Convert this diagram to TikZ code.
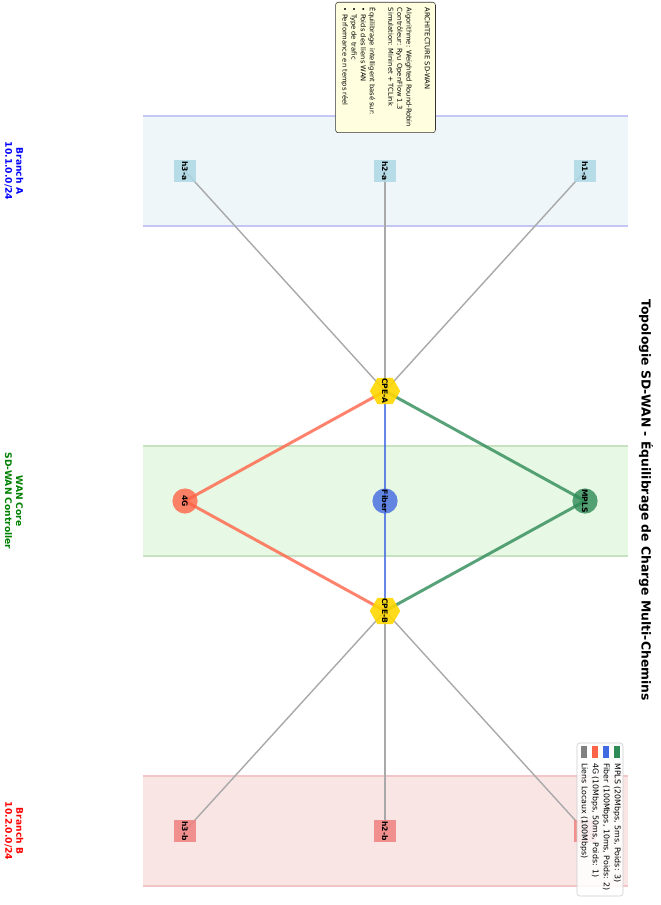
\documentclass[tikz,border=0pt]{standalone}
\usepackage{fontspec}
\setmainfont{DejaVu Sans}
\usepackage{tikz}
\usetikzlibrary{shapes.geometric}
\usetikzlibrary{backgrounds}
\definecolor{mplsgreen}{HTML}{2E8B57}
\definecolor{fiberblue}{HTML}{4169E1}
\definecolor{lteorange}{HTML}{FF6347}
\definecolor{localgray}{HTML}{A9A9A9}
\definecolor{hostblue}{HTML}{ADD8E6}
\definecolor{hostred}{HTML}{F08080}
\definecolor{cpegold}{HTML}{FFD700}
\definecolor{infoyellow}{HTML}{FFFFE0}
\definecolor{zoneafill}{HTML}{EEF6FA}
\definecolor{zoneaedge}{HTML}{C4C6F4}
\definecolor{zonewfill}{HTML}{E7F8E4}
\definecolor{zonewedge}{HTML}{C6E2C1}
\definecolor{zonebfill}{HTML}{FAE5E5}
\definecolor{zonebedge}{HTML}{F2C6C6}

\begin{document}
\begin{tikzpicture}[x=0.025cm, y=-0.025cm,
		host/.style = {rectangle, minimum size=0.56cm, inner sep=0pt, fill opacity=0.85, text opacity=1, rotate=-90, font=\fontsize{5.4}{6}\selectfont\bfseries},
		hosta/.style = {host, fill=hostblue},
		hostb/.style = {host, fill=hostred},
		cpe/.style = {regular polygon, regular polygon sides=6, shape border rotate=30, minimum size=0.76cm, inner sep=0pt, fill=cpegold, fill opacity=0.9, text opacity=1, rotate=-90, font=\fontsize{5.4}{6}\selectfont\bfseries},
		wan/.style = {circle, minimum size=0.63cm, inner sep=0pt, fill opacity=0.8, text opacity=1, rotate=-90, font=\fontsize{5.4}{6}\selectfont\bfseries},
		link/.style = {line width=2.1pt, draw opacity=0.8},
		local/.style = {localgray, line width=1pt},
		zone/.style = {rotate=-90, align=center, font=\fontsize{6.5}{7.8}\selectfont\bfseries},
		legtext/.style = {rotate=-90, anchor=west, inner sep=0pt, font=\fontsize{5.6}{6.4}\selectfont}
			]
		\useasboundingbox (0,0) rectangle (661,905);

		\node (Title) [rotate=-90, font=\fontsize{8.8}{10}\selectfont\bfseries] at (646,500) {Topologie SD-WAN - Équilibrage de Charge Multi-Chemins};

		\node (BranchA) [zone, text=blue] at (14,171) {Branch A\\10.1.0.0/24};
		\node (Core) [zone, text=green!50!black] at (14,501) {WAN Core\\SD-WAN Controller};
		\node (BranchB) [zone, text=red] at (14,831) {Branch B\\10.2.0.0/24};

		\node (h1a) [hosta] at (585,171) {h1-a};
		\node (h2a) [hosta] at (385,171) {h2-a};
		\node (h3a) [hosta] at (185,171) {h3-a};

		\node (CPEA) [cpe] at (385,391) {\makebox[0pt]{CPE-A}};
		\node (CPEB) [cpe] at (385,611) {\makebox[0pt]{CPE-B}};

		\node (MPLS) [wan, fill=mplsgreen] at (585,501) {MPLS};
		\node (Fiber) [wan, fill=fiberblue] at (385,501) {Fiber};
		\node (LTE) [wan, fill=lteorange] at (185,501) {4G};

		\node (h1b) [hostb] at (585,831) {h1-b};
		\node (h2b) [hostb] at (385,831) {h2-b};
		\node (h3b) [hostb] at (185,831) {h3-b};

		\begin{scope}[on background layer]
			\fill [zoneafill] (143,116) rectangle (628,226);
			\draw [zoneaedge, line width=1.3pt] (143,116) -- (628,116) (143,226) -- (628,226);
			\fill [zonewfill] (143,446) rectangle (628,556);
			\draw [zonewedge, line width=1.3pt] (143,446) -- (628,446) (143,556) -- (628,556);
			\fill [zonebfill] (143,776) rectangle (628,886);
			\draw [zonebedge, line width=1.3pt] (143,776) -- (628,776) (143,886) -- (628,886);

			\draw [local] (h1a.center) -- (CPEA.center);
			\draw [local] (h2a.center) -- (CPEA.center);
			\draw [local] (h3a.center) -- (CPEA.center);
			\draw [local] (CPEB.center) -- (h1b.center);
			\draw [local] (CPEB.center) -- (h2b.center);
			\draw [local] (CPEB.center) -- (h3b.center);

			\draw [link, mplsgreen] (CPEA.center) -- (MPLS.center) -- (CPEB.center);
			\draw [link, fiberblue] (CPEA.center) -- (Fiber.center) -- (CPEB.center);
			\draw [link, lteorange] (CPEA.center) -- (LTE.center) -- (CPEB.center);
		\end{scope}

		\node (Info) [rotate=-90, draw=black!80, fill=infoyellow, rounded corners=2pt, inner sep=4pt, align=left, font=\fontsize{4.8}{6.5}\selectfont] at (385.5,67.5)
			{ARCHITECTURE SD-WAN\\[6.5pt]
			Algorithme: Weighted Round-Robin\\
			Contrôleur: Ryu OpenFlow 1.3\\
			Simulation: Mininet + TCLink\\[6.5pt]
			Équilibrage intelligent basé sur:\\
			• Poids des liens WAN\\
			• Type de trafic\\
			• Performance en temps réel};

		\draw [black!20, fill=white, fill opacity=0.85, rounded corners=2pt] (577,743) rectangle (623,896);
		\fill [mplsgreen] (614,746) rectangle (620,758);
		\fill [fiberblue] (603,746) rectangle (609,758);
		\fill [lteorange] (592,746) rectangle (598,758);
		\fill [gray] (581,746) rectangle (587,758);
		\node (legMPLS) [legtext] at (617,763) {MPLS (20Mbps, 5ms, Poids: 3)};
		\node (legFiber) [legtext] at (606,763) {Fiber (100Mbps, 10ms, Poids: 2)};
		\node (legLTE) [legtext] at (595,763) {4G (10Mbps, 50ms, Poids: 1)};
		\node (legLocal) [legtext] at (584,763) {Liens Locaux (100Mbps)};

	\end{tikzpicture}
\end{document}
